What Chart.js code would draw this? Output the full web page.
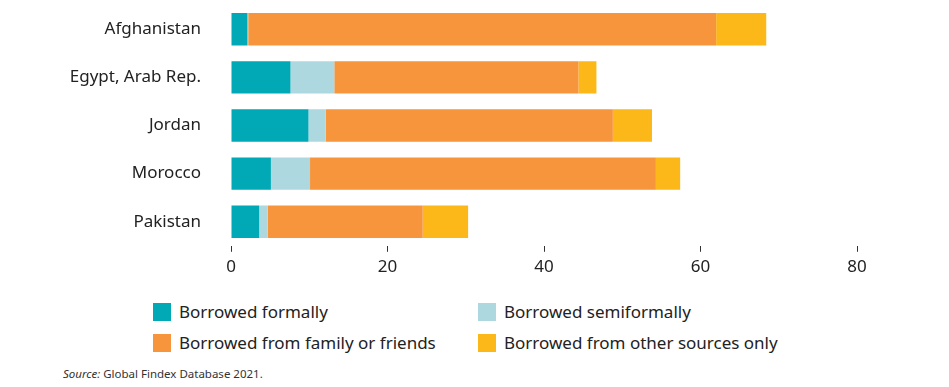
<!DOCTYPE html>
<html>
<head>
<meta charset="utf-8">
<script src="https://cdn.jsdelivr.net/npm/chart.js@4.4.1/dist/chart.umd.min.js"></script>
<style>
  html, body { margin: 0; padding: 0; background: #fff; }
  body { width: 949px; height: 387px; position: relative; overflow: hidden; font-family: "Noto Sans", "Open Sans", sans-serif; }
  #wrap { position: absolute; left: 0; top: -35px; width: 949px; height: 321px; }
  #c { display: block; }
  .leg { position: absolute; display: flex; align-items: center; font-size: 17px; color: #222; }
  .leg span.box { display: inline-block; width: 18px; height: 18px; margin-right: 8px; }
  #source { position: absolute; left: 63px; top: 366px; font-size: 11.5px; color: #333; }
</style>
</head>
<body>
<div id="wrap"><canvas id="c"></canvas></div>
<div id="legend"></div>
<div id="source"><i>Source:</i> Global Findex Database 2021.</div>
<script>
const categories = ["Afghanistan", "Egypt, Arab Rep.", "Jordan", "Morocco", "Pakistan"];
const seriesNames = ["Borrowed formally", "Borrowed semiformally", "Borrowed from family or friends", "Borrowed from other sources only"];
const formal = [2.1, 7.6, 9.9, 5.1, 3.6];
const semiformal = [0.1, 5.6, 2.2, 5.0, 1.1];
const family = [59.8, 31.2, 36.7, 44.2, 19.8];
const other = [6.4, 2.3, 5.0, 3.1, 5.8];
const xTicks = [0, 20, 40, 60, 80];
const colors = ["#00A9B5", "#AED8DF", "#F7953D", "#FBB818"];

const seriesData = [formal, semiformal, family, other];
const datasets = seriesData.map((d, i) => ({
  label: seriesNames[i],
  data: d,
  backgroundColor: colors[i],
  borderWidth: 0,
  barPercentage: 0.84,
  categoryPercentage: 0.8
}));

new Chart(document.getElementById('c'), {
  type: 'bar',
  data: { labels: categories, datasets },
  options: {
    indexAxis: 'y',
    responsive: true,
    maintainAspectRatio: false,
    animation: false,
    layout: { padding: { top: 5, right: 92, left: 0, bottom: 0 } },
    plugins: { legend: { display: false }, tooltip: { enabled: false } },
    scales: {
      x: {
        stacked: true,
        min: 0, max: 80,
        afterBuildTicks: (s) => { s.ticks = xTicks.map(v => ({ value: v })); },
        grid: { drawOnChartArea: false, drawTicks: true, tickLength: 6, color: '#333', lineWidth: 1 },
        border: { display: false },
        ticks: { color: '#222', font: { family: '"Noto Sans", sans-serif', size: 17 }, padding: 5 }
      },
      y: {
        stacked: true,
        grid: { display: false, drawTicks: false },
        border: { display: false },
        afterFit: (s) => { s.width = 231; },
        ticks: { color: '#222', font: { family: '"Noto Sans", sans-serif', size: 17 }, padding: 30 }
      }
    }
  }
});

const legendPos = [[153, 300], [478, 300], [153, 331], [478, 331]];
const legendEl = document.getElementById('legend');
seriesNames.forEach((n, i) => {
  const d = document.createElement('div');
  d.className = 'leg';
  d.style.left = legendPos[i][0] + 'px';
  d.style.top = legendPos[i][1] + 'px';
  d.innerHTML = '<span class="box" style="background:' + colors[i] + '"></span>' + n;
  legendEl.appendChild(d);
});
</script>
</body>
</html>
